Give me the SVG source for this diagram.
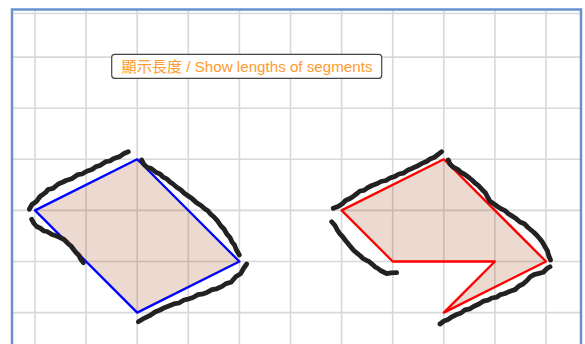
<svg xmlns="http://www.w3.org/2000/svg" width="585" height="344" viewBox="0 0 585 344">
<style>
.grid line{stroke:#d8d8d8;stroke-width:1.6}
.poly{fill:#993300;fill-opacity:0.19;stroke-width:2.3;stroke-linejoin:round}
.ink{fill:none;stroke:#222;stroke-width:4.8;stroke-linecap:round;stroke-linejoin:round}
.lbl{font-family:"Liberation Sans","Noto Sans CJK TC",sans-serif;font-size:15px;fill:#ff9a2e}
</style>
<rect x="0" y="0" width="585" height="344" fill="#ffffff"/>
<g class="grid">
<line x1="12" y1="13.5" x2="581" y2="13.5" stroke="#e6e6e6"/>
<line x1="12" y1="57.1" x2="581" y2="57.1"/>
<line x1="12" y1="108.2" x2="581" y2="108.2"/>
<line x1="12" y1="159.3" x2="581" y2="159.3"/>
<line x1="12" y1="210.4" x2="581" y2="210.4"/>
<line x1="12" y1="261.5" x2="581" y2="261.5"/>
<line x1="12" y1="312.6" x2="581" y2="312.6"/>
<line x1="35" y1="10" x2="35" y2="344"/>
<line x1="86.1" y1="10" x2="86.1" y2="344"/>
<line x1="137.2" y1="10" x2="137.2" y2="344"/>
<line x1="188.3" y1="10" x2="188.3" y2="344"/>
<line x1="239.4" y1="10" x2="239.4" y2="344"/>
<line x1="290.5" y1="10" x2="290.5" y2="344"/>
<line x1="341.6" y1="10" x2="341.6" y2="344"/>
<line x1="392.7" y1="10" x2="392.7" y2="344"/>
<line x1="443.8" y1="10" x2="443.8" y2="344"/>
<line x1="494.9" y1="10" x2="494.9" y2="344"/>
<line x1="546" y1="10" x2="546" y2="344"/>
</g>
<rect x="12" y="9.5" width="569" height="340" fill="none" stroke="#6892cf" stroke-width="2.5"/>
<g id="shape-left">
<polygon class="poly" stroke="#0000ff" points="35,210.4 137.2,159.3 239.4,261.5 137.2,312.6"/>
</g>
<g id="shape-right">
<polygon class="poly" stroke="#ff0000" stroke-width="2" points="341.6,210.4 443.8,159.3 546,261.5 443.8,312.6 494.9,261.5 392.7,261.5"/>
</g>
<g id="connectors">
<polyline class="ink" points="29.3,209.3 32,204.5 36.7,201.2 40,196.5 45.7,192.4 48,189.5 53,188.4 58.3,184 63,182 66,180.5 71.7,178.8 78,174.6 82,174 86.7,171.2 92,169.5 96,166.6 100,165.5 106,161.6 110,161 113.3,158.8 120,156.4 124,153.5 128.3,151.7"/>
<polyline class="ink" points="141.7,160 144,164.5 147.5,167.5 151,168.4 156.2,172.4 160,174 162.8,176.8 166.7,178.8 170,182 173,184 176.7,187.2 181,190 184,193 187.5,195.5 192,198.6 196.2,202.4 201,205.5 205,209 207.8,210.8 211,214.5 214,217 217.3,220.6 221,226 224,229 226.7,233.8 230,237.5 232,242 234.5,245 236.2,249.5 239.3,255"/>
<polyline class="ink" points="246.7,264 243.5,268.5 240.6,273.8 236,276.5 231,282.3 226,283.6 222,286.4 216.7,288.8 212,289.6 207,292.4 203.3,293.8 198,294.6 193,297.5 189,298.8 184,300 179,303 175,303.6 170,305.5 165,307.4 160,310 155,312 150,315.4 144,318.3 138.3,321.7"/>
<polyline class="ink" points="31.7,219.3 34,223.5 36.7,226.5 40,228 44,231 47,231.5 52,234.5 56,235.8 60,237.5 64,239.5 68.3,243.8 71,246 74,250 76,252.5 79,255.5 80.5,258.8 83.3,262.7"/>
<polyline class="ink" points="333.3,208.3 338,206.5 342.3,203.8 345.5,200.5 350,198.5 353.5,196.2 357,193.5 360,191 364,190.4 368,187.5 372,185.5 376.7,183.8 381,181.5 386,180.5 390,178 395,176.4 399,174 403.3,173.2 408,170 412,168.4 416.7,166.3 422,163.4 427,161.2 430,159 434,157.5 438,154.5 441.7,151.7"/>
<polyline class="ink" points="448.3,160 450,164 453.3,167.2 458,169.6 461,172.5 464,174 468,176.8 472,180 475,183 478.5,185.6 482,189.5 485.5,193 487.5,197 490,201.2 494,204 497.5,206.5 501,208.8 505,210.6 508,213.5 511,215.4 516,218.6 520,222 524.3,223.8 528,227.5 531,230 534,232.5 537,235.5 540,239 542,241.5 545,246.7 547.5,251 548.5,255 550.5,260"/>
<polyline class="ink" points="550,266.7 547,268.5 543.3,272.2 539,273.4 534,274.6 530,277 527,280.5 523.3,283.8 519,286 515,289.6 510,291.2 505,293.5 500.5,294.6 496.7,297.2 492,298 488,300.2 483.3,301.2 479,304 474,306.2 470,308.8 465,309.8 461,313 456.7,314.5 452,316.8 448,319.5 444,321 440,324"/>
<polyline class="ink" points="331.7,221.7 335,225.5 337.5,230.3 340,234 342.5,236.5 345.5,240.5 348,243.5 350,246 353.8,250.5 357,253.2 360.5,256 363,258.5 366.5,260.4 369,261.5 371.7,263.8 375,266.8 378,268.5 380.5,270.5 383.5,272 386.7,273.6 391,272.8 396.7,272.7"/>
</g>
<g id="label">
<rect x="111.7" y="54.3" width="270" height="24" rx="3" ry="3" fill="#ffffff" stroke="#444" stroke-width="1.2"/>
<text class="lbl" x="121.5" y="71.5" textLength="251" lengthAdjust="spacingAndGlyphs">顯示長度 / Show lengths of segments</text>
</g>
</svg>
